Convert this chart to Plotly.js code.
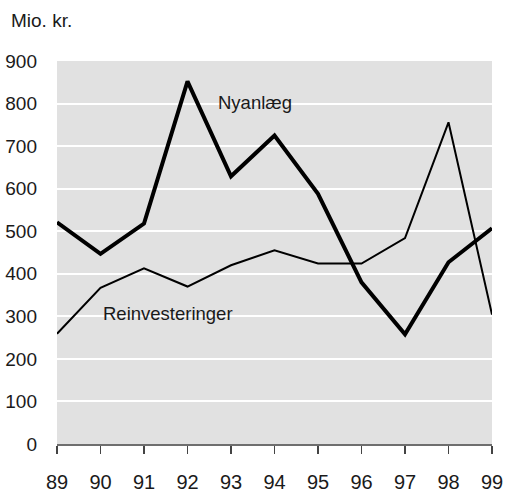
<!DOCTYPE html>
<html>
<head>
<meta charset="utf-8">
<script src="https://cdn.plot.ly/plotly-3.0.1.min.js"></script>
<style>html,body{margin:0;padding:0;background:#fff;}#chart{width:505px;height:493px;}</style>
</head>
<body>
<div id="chart"></div>
<script>
var years = [89, 90, 91, 92, 93, 94, 95, 96, 97, 98, 99];
var yearLabels = ["89", "90", "91", "92", "93", "94", "95", "96", "97", "98", "99"];
var nyanlaeg = [521, 447, 518, 852, 629, 725, 588, 380, 258, 427, 507];
var reinvesteringer = [259, 367, 413, 370, 420, 455, 424, 424, 484, 756, 304];
var yTicks = [0, 100, 200, 300, 400, 500, 600, 700, 800, 900];

var FONT = "'Liberation Sans', Arial, sans-serif";

var traces = [
  {x: years, y: reinvesteringer, type: 'scatter', mode: 'lines', name: 'Reinvesteringer',
   line: {color: '#000', width: 2}},
  {x: years, y: nyanlaeg, type: 'scatter', mode: 'lines', name: 'Nyanlæg',
   line: {color: '#000', width: 4}}
];

var layout = {
  width: 505, height: 493,
  margin: {l: 57, r: 13, t: 61, b: 49},
  paper_bgcolor: '#fff',
  plot_bgcolor: '#e1e1e1',
  showlegend: false,
  font: {family: FONT, size: 19, color: '#1a1a1a'},
  xaxis: {
    range: [89, 99], tickvals: years, ticktext: yearLabels,
    showgrid: false, zeroline: false,
    showline: true, linecolor: '#6e6e6e', linewidth: 2,
    ticks: 'outside', ticklen: 8, tickwidth: 1.5, tickcolor: '#444',
    ticklabelstandoff: 11,
    tickfont: {family: FONT, size: 20, color: '#1a1a1a'}
  },
  yaxis: {
    range: [0, 900], tickvals: yTicks,
    showgrid: true, gridcolor: '#ffffff', gridwidth: 2,
    zeroline: false, showline: false, ticks: '',
    ticklabelstandoff: 19,
    tickfont: {family: FONT, size: 19, color: '#1a1a1a'}
  },
  annotations: [
    {text: 'Mio. kr.', xref: 'paper', yref: 'paper', x: -48/435, y: 1 + 40/383,
     xanchor: 'left', yanchor: 'middle', showarrow: false,
     font: {family: FONT, size: 19, color: '#1a1a1a'}},
    {text: 'Nyanlæg', xref: 'x', yref: 'y', x: 92.65, y: 803,
     xanchor: 'left', yanchor: 'middle', showarrow: false,
     font: {family: FONT, size: 18.5, color: '#1a1a1a'}},
    {text: 'Reinvesteringer', xref: 'x', yref: 'y', x: 90.0, y: 307,
     xanchor: 'left', yanchor: 'middle', showarrow: false,
     font: {family: FONT, size: 18.5, color: '#1a1a1a'}}
  ]
};

Plotly.newPlot('chart', traces, layout, {displayModeBar: false, staticPlot: true});
</script>
</body>
</html>
